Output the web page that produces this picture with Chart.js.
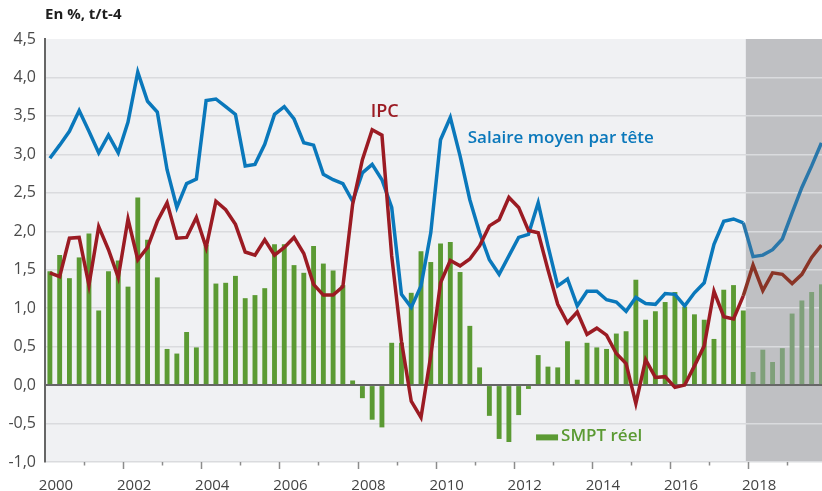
<!DOCTYPE html>
<html>
<head>
<meta charset="utf-8">
<script src="https://cdn.jsdelivr.net/npm/chart.js@4/dist/chart.umd.min.js"></script>
<style>
  body { margin: 0; background: #fff; }
  canvas { display: block; }
</style>
</head>
<body>
<canvas id="chart" width="822" height="491"></canvas>
<script>
// Quarterly labels, 2000T1 .. 2019T4
const years = [2000, 2001, 2002, 2003, 2004, 2005, 2006, 2007, 2008, 2009,
  2010, 2011, 2012, 2013, 2014, 2015, 2016, 2017, 2018, 2019]
const quarters = years.flatMap(y => ['T1', 'T2', 'T3', 'T4'].map(t => y + t))

// SMPT réel (bars)
const smptReel = [
  1.48, 1.69, 1.39, 1.66, 1.97, 0.97, 1.48, 1.62, 1.28, 2.44, 1.89, 1.40,
  0.47, 0.41, 0.69, 0.49, 1.82, 1.32, 1.33, 1.42, 1.13, 1.17, 1.26, 1.83,
  1.83, 1.56, 1.46, 1.81, 1.58, 1.49, 1.30, 0.06, -0.17, -0.45, -0.55, 0.55,
  0.55, 1.20, 1.74, 1.60, 1.84, 1.86, 1.47, 0.77, 0.23, -0.40, -0.70, -0.74,
  -0.39, -0.05, 0.39, 0.24, 0.23, 0.57, 0.07, 0.55, 0.49, 0.47, 0.67, 0.70,
  1.37, 0.85, 0.96, 1.08, 1.21, 1.02, 0.92, 0.85, 0.60, 1.24, 1.30, 0.97,
  0.17, 0.46, 0.30, 0.48, 0.93, 1.10, 1.21, 1.31
]

// Salaire moyen par tête (blue line)
const salaireMoyen = [
  2.95, 3.12, 3.30, 3.57, 3.30, 3.02, 3.25, 3.02, 3.42, 4.07, 3.69, 3.55,
  2.80, 2.31, 2.62, 2.68, 3.70, 3.72, 3.62, 3.52, 2.85, 2.87, 3.13, 3.52,
  3.62, 3.46, 3.15, 3.12, 2.74, 2.67, 2.62, 2.39, 2.76, 2.87, 2.67, 2.31,
  1.18, 1.01, 1.29, 1.98, 3.19, 3.48, 2.98, 2.41, 1.98, 1.63, 1.44, 1.68,
  1.92, 1.96, 2.37, 1.81, 1.29, 1.38, 1.03, 1.22, 1.22, 1.11, 1.08, 0.96,
  1.14, 1.06, 1.05, 1.19, 1.18, 1.03, 1.20, 1.33, 1.83, 2.13, 2.16, 2.11,
  1.67, 1.69, 1.76, 1.90, 2.24, 2.57, 2.85, 3.15
]

// IPC (red line)
const ipc = [
  1.46, 1.41, 1.91, 1.92, 1.30, 2.06, 1.76, 1.40, 2.16, 1.63, 1.79, 2.13,
  2.37, 1.91, 1.92, 2.18, 1.79, 2.39, 2.28, 2.09, 1.73, 1.69, 1.89, 1.69,
  1.79, 1.92, 1.71, 1.31, 1.17, 1.17, 1.28, 2.35, 2.93, 3.32, 3.25, 1.68,
  0.57, -0.21, -0.42, 0.38, 1.33, 1.62, 1.55, 1.64, 1.81, 2.07, 2.15, 2.44,
  2.31, 2.01, 1.98, 1.50, 1.05, 0.81, 0.95, 0.66, 0.74, 0.65, 0.41, 0.28,
  -0.24, 0.33, 0.10, 0.11, -0.03, 0.00, 0.25, 0.51, 1.22, 0.89, 0.86, 1.16,
  1.56, 1.23, 1.46, 1.44, 1.32, 1.44, 1.66, 1.82
]

const yTicks = [-1, -0.5, 0, 0.5, 1, 1.5, 2, 2.5, 3, 3.5, 4, 4.5]
const forecastStart = 2017.94

// position of each quarter on the time axis (middle of the quarter)
const xOf = q => Number(q.slice(0, 4)) + (Number(q.slice(5)) - 0.5) / 4
const pts = vals => vals.map((v, i) => ({ x: xOf(quarters[i]), y: v }))

const FONT = '"Open Sans", "DejaVu Sans", sans-serif'
const fmt = v => v.toFixed(1).replace('.', ',')

const decor = {
  id: 'decor',
  beforeDraw(chart) {
    const { ctx, chartArea: a, scales: { x } } = chart
    ctx.save()
    ctx.fillStyle = '#fff'
    ctx.fillRect(0, 0, chart.width, chart.height)
    ctx.fillStyle = '#f0f1f3'
    ctx.fillRect(a.left, a.top, a.right - a.left, a.bottom - a.top)
    const sx = x.getPixelForValue(forecastStart)
    ctx.fillStyle = '#bfc0c3'
    ctx.fillRect(sx, a.top, a.right - sx, a.bottom - a.top)
    ctx.fillStyle = '#1e1e1e'
    ctx.font = 'bold 15px ' + FONT
    ctx.textBaseline = 'middle'
    ctx.fillText('En %, t/t-4', 45, 15)
    ctx.restore()
  },
  afterDraw(chart) {
    const { ctx, chartArea: a, scales: { x, y } } = chart
    ctx.save()
    // year ticks under the axis, long for even years
    ctx.strokeStyle = '#8c8c8c'
    ctx.lineWidth = 1.5
    years.forEach(yr => {
      if (yr === 2000) return
      const px = Math.round(x.getPixelForValue(yr)) + 0.5
      ctx.beginPath()
      ctx.moveTo(px, a.bottom)
      ctx.lineTo(px, a.bottom + (yr % 2 === 0 ? 7 : 3.5))
      ctx.stroke()
    })
    // series labels
    ctx.textBaseline = 'middle'
    ctx.font = '600 18px ' + FONT
    ctx.fillStyle = '#9b1b23'
    ctx.fillText('IPC', x.getPixelForValue(2008.34), y.getPixelForValue(3.55))
    ctx.font = '600 17px ' + FONT
    ctx.fillStyle = '#0a78bb'
    ctx.fillText('Salaire moyen par tête', x.getPixelForValue(2010.82), y.getPixelForValue(3.21))
    ctx.fillStyle = '#5b9a33'
    const lx = x.getPixelForValue(2012.57), ly = y.getPixelForValue(-0.68)
    ctx.fillRect(lx, ly - 3, 22, 6)
    ctx.fillText('SMPT réel', lx + 25, ly - 1)
    ctx.restore()
  }
}

new Chart(document.getElementById('chart'), {
  type: 'bar',
  data: {
    datasets: [
      {
        type: 'line',
        label: 'IPC',
        data: pts(ipc),
        borderColor: '#9b1b23',
        borderWidth: 3.5,
        pointRadius: 0,
        tension: 0,
        order: 1,
        segment: { borderColor: c => c.p1.parsed.x > forecastStart ? '#8a3426' : undefined }
      },
      {
        type: 'line',
        label: 'Salaire moyen par tête',
        data: pts(salaireMoyen),
        borderColor: '#0a78bb',
        borderWidth: 3.5,
        pointRadius: 0,
        tension: 0,
        order: 2,
        segment: { borderColor: c => c.p1.parsed.x > forecastStart ? '#2a77aa' : undefined }
      },
      {
        label: 'SMPT réel',
        data: pts(smptReel),
        backgroundColor: c => xOf(quarters[c.dataIndex]) > forecastStart ? '#7fa07a' : '#5b9a33',
        barPercentage: 0.5,
        categoryPercentage: 1,
        order: 3
      }
    ]
  },
  options: {
    responsive: false,
    animation: false,
    layout: { padding: { top: 39, right: 0, left: 0, bottom: 0 } },
    plugins: { legend: { display: false }, tooltip: { enabled: false } },
    scales: {
      x: {
        type: 'linear',
        offset: false,
        min: 2000,
        max: 2019.89,
        grid: { display: false, offset: false },
        border: { display: false },
        afterFit: s => { s.height = 29 },
        afterBuildTicks: s => { s.ticks = years.map(v => ({ value: v })) },
        ticks: {
          autoSkip: false,
          maxRotation: 0,
          includeBounds: false,
          labelOffset: 11,
          padding: 7,
          color: '#444',
          font: { family: FONT, size: 15 },
          callback: v => (v % 2 === 0 ? String(v) : '')
        }
      },
      y: {
        min: -1,
        max: 4.5,
        afterFit: s => { s.width = 45 },
        afterBuildTicks: s => { s.ticks = yTicks.map(v => ({ value: v })) },
        grid: {
          drawTicks: false,
          color: c => c.tick.value === 0 ? '#666' : (c.tick.value === 4.5 ? 'rgba(0,0,0,0)' : '#dadbde'),
          lineWidth: c => c.tick.value === 0 ? 2 : 1.5
        },
        border: { color: '#666', width: 2 },
        ticks: {
          padding: 9,
          color: '#4a4a4a',
          font: { family: FONT, size: 16 },
          callback: v => fmt(v)
        }
      }
    }
  },
  plugins: [decor]
})
</script>
</body>
</html>
